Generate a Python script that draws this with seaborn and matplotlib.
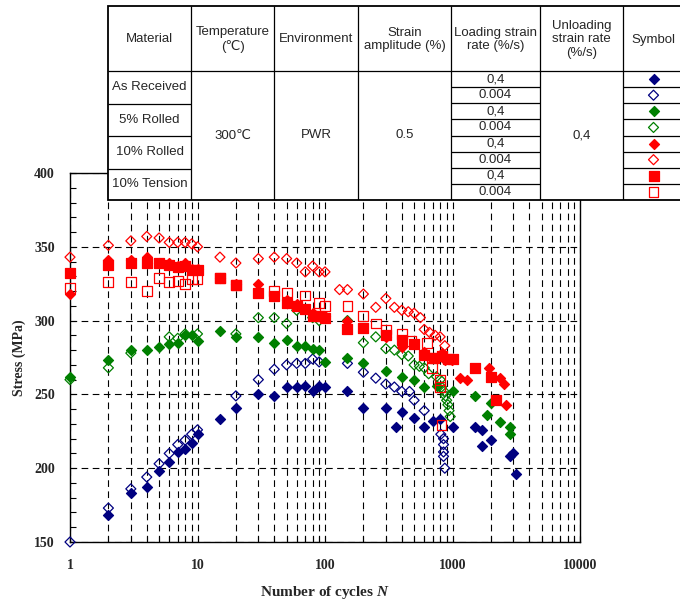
import numpy as np
import matplotlib
matplotlib.use("Agg")
import matplotlib.pyplot as plt
from matplotlib.patches import Rectangle
from matplotlib.ticker import LogLocator, MultipleLocator, NullFormatter
import seaborn as sns

# ---------------- cyclic stress response data ----------------
# As received, loading 0.4 %/s
ar_fast_n = [2, 3, 4, 5, 6, 7, 8, 9, 10, 15, 20, 30, 40, 50, 60, 70, 80, 90, 100,
             150, 200, 300, 360, 400, 500, 600, 700, 800, 1000, 1500, 1700, 1700,
             2000, 2800, 3000, 3150]
ar_fast_s = [168, 183, 187, 198, 204, 211, 213, 217, 223, 233, 241, 250, 249, 255,
             255, 256, 252, 256, 255, 252, 241, 241, 228, 238, 234, 228, 232, 233,
             228, 228, 226, 215, 219, 208, 210, 196]
# As received, loading 0.004 %/s
ar_slow_n = [1, 2, 3, 4, 5, 6, 7, 8, 9, 10, 20, 30, 40, 50, 60, 70, 80, 90, 150,
             200, 250, 300, 350, 400, 460, 500, 600, 810, 850, 850, 850, 850, 870]
ar_slow_s = [150, 173, 186, 194, 203, 210, 216, 219, 223, 226, 249, 260, 267, 270,
             271, 271, 274, 272, 271, 265, 261, 257, 255, 252, 252, 246, 239, 223,
             220, 216, 211, 208, 200]
# 5% rolled, loading 0.4 %/s
r5_fast_n = [1, 2, 3, 4, 5, 6, 7, 8, 9, 10, 15, 20, 30, 40, 50, 60, 70, 80, 90, 100,
             150, 200, 300, 400, 500, 600, 750, 1000, 1500, 1850, 2000, 2350, 2850,
             2850]
r5_fast_s = [262, 273, 280, 280, 282, 284, 285, 290, 290, 286, 293, 289, 289, 285,
             287, 283, 283, 281, 280, 272, 275, 271, 266, 262, 260, 255, 256, 252,
             249, 236, 244, 231, 228, 223]
# 5% rolled, loading 0.004 %/s
r5_slow_n = [1, 2, 3, 6, 7, 8, 10, 20, 30, 40, 50, 60, 80, 90, 150, 200, 250, 300,
             350, 400, 450, 500, 550, 600, 650, 750, 800, 820, 860, 880, 900, 920,
             940, 960]
r5_slow_s = [260, 268, 278, 289, 288, 291, 291, 291, 302, 302, 298, 307, 302, 300,
             300, 285, 289, 281, 280, 277, 276, 270, 269, 268, 264, 262, 260, 255,
             252, 249, 246, 243, 239, 235]
# 10% rolled, loading 0.4 %/s
r10_fast_n = [1, 2, 3, 4, 5, 6, 7, 8, 9, 10, 15, 20, 30, 50, 60, 80, 90, 100, 150,
              300, 400, 600, 675, 820, 870, 985, 1150, 1300, 1950, 2350, 2550, 2650]
r10_fast_s = [318, 341, 341, 343, 339, 339, 337, 339, 335, 335, 329, 325, 325, 314,
              311, 305, 303, 303, 300, 289, 282, 279, 275, 278, 273, 273, 261, 260,
              268, 261, 257, 243]
# 10% rolled, loading 0.004 %/s
r10_slow_n = [1, 2, 3, 4, 5, 6, 7, 8, 9, 10, 15, 20, 30, 40, 50, 60, 70, 80, 90, 100,
              130, 150, 200, 250, 300, 350, 400, 450, 500, 560, 600, 660, 730, 800,
              870]
r10_slow_s = [343, 351, 354, 357, 356, 353, 353, 353, 352, 350, 343, 339, 342, 343,
              342, 339, 333, 337, 333, 333, 321, 321, 318, 309, 315, 309, 307, 306,
              305, 302, 294, 292, 290, 289, 283]
# 10% tension, loading 0.4 %/s
t10_fast_n = [1, 2, 3, 4, 5, 6, 7, 8, 9, 10, 15, 20, 30, 40, 50, 60, 70, 80, 90, 100,
              150, 200, 300, 400, 500, 600, 720, 820, 920, 1000, 1500, 2000, 2200]
t10_fast_s = [332, 338, 339, 339, 339, 338, 336, 337, 334, 334, 329, 324, 319, 317,
              312, 310, 308, 303, 303, 302, 294, 295, 290, 287, 284, 277, 275, 276,
              274, 274, 268, 262, 246]
# 10% tension, loading 0.004 %/s
t10_slow_n = [1, 2, 3, 4, 5, 6, 7, 8, 9, 10, 15, 20, 40, 50, 70, 90, 100, 150, 200,
              250, 300, 400, 470, 630, 690, 690, 800, 800, 820]
t10_slow_s = [322, 326, 326, 320, 329, 326, 327, 325, 328, 328, 329, 324, 320, 319,
              317, 312, 310, 310, 303, 298, 294, 291, 286, 285, 275, 268, 260, 255,
              229]

materials = ["As Received", "5% Rolled", "10% Rolled", "10% Tension"]
loading_rates = ["0,4", "0.004"]
y_ticks = [150, 200, 250, 300, 350, 400]
x_ticks = [1, 10, 100, 1000, 10000]
x_tick_labels = ["1", "10", "100", "1000", "10000"]

NAVY, GREEN, RED = "#000080", "#008000", "#ff0000"
DIAMOND_S, SQUARE_S = 26, 50

series = [
    (ar_fast_n, ar_fast_s, "D", NAVY, True, DIAMOND_S),
    (ar_slow_n, ar_slow_s, "D", NAVY, False, DIAMOND_S),
    (r5_fast_n, r5_fast_s, "D", GREEN, True, DIAMOND_S),
    (r5_slow_n, r5_slow_s, "D", GREEN, False, DIAMOND_S),
    (r10_fast_n, r10_fast_s, "D", RED, True, DIAMOND_S),
    (r10_slow_n, r10_slow_s, "D", RED, False, DIAMOND_S),
    (t10_fast_n, t10_fast_s, "s", RED, True, SQUARE_S),
    (t10_slow_n, t10_slow_s, "s", RED, False, SQUARE_S),
]

# ---------------- style ----------------
sns.set_theme(style="white")
plt.rcParams["font.family"] = ["Liberation Serif", "DejaVu Serif"]
plt.rcParams["mathtext.fontset"] = "custom"
plt.rcParams["mathtext.rm"] = "Liberation Serif"
plt.rcParams["mathtext.it"] = "Liberation Serif:italic:bold"
plt.rcParams["mathtext.bf"] = "Liberation Serif:bold"

fig = plt.figure(figsize=(6.8, 6.07), dpi=100)
ax = fig.add_axes([70 / 680, 65 / 607, 510 / 680, 369 / 607])

for n, s, marker, color, filled, size in series:
    sns.scatterplot(x=n, y=s, ax=ax, marker=marker, s=size, color=color,
                    edgecolor=color, linewidth=0.9, zorder=3, legend=False,
                    clip_on=False)
    if not filled:
        ax.collections[-1].set_facecolor("none")

ax.set_xscale("log")
ax.set_xlim(1, 10000)
ax.set_ylim(150, 400)

ax.set_xticks(x_ticks, x_tick_labels, fontweight="bold", fontsize=10)
ax.xaxis.set_minor_locator(LogLocator(base=10, subs=np.arange(2, 10)))
ax.xaxis.set_minor_formatter(NullFormatter())
ax.set_yticks(y_ticks, [str(v) for v in y_ticks], fontweight="bold", fontsize=10)
ax.yaxis.set_minor_locator(MultipleLocator(10))

ax.tick_params(axis="y", which="both", direction="in", length=4, width=0.8,
               color="black", pad=11, left=True, right=False)
ax.tick_params(axis="x", which="both", direction="in", length=4, width=0.8,
               color="black", pad=12, bottom=True, top=False)

dash = (0, (6, 4))
ax.grid(True, axis="x", which="both", color="black", linestyle=dash, linewidth=0.8)
ax.grid(True, axis="y", which="major", color="black", linestyle=dash, linewidth=0.8)
ax.set_axisbelow(True)

for side in ["left", "right", "top", "bottom"]:
    ax.spines[side].set_visible(True)
    ax.spines[side].set_color("black")
    ax.spines[side].set_linewidth(1.0)

ax.set_ylabel("Stress (MPa)", fontweight="bold", fontsize=10, labelpad=6)
ax.set_xlabel("Number of cycles $N$", fontweight="bold", fontsize=11, labelpad=9)

# ---------------- test condition table ----------------
tax = fig.add_axes([108 / 680, (607 - 200) / 607, 576 / 680, 194 / 607])
tax.set_xlim(108, 684)
tax.set_ylim(200, 6)
tax.axis("off")

cols = [108, 191, 274, 358, 451, 540, 623, 684]
top, head, bot = 6, 71, 200
row_edges = [71, 103.5, 136, 168.5, 200]
sub_edges = np.linspace(71, 200, 9)

tax.add_patch(Rectangle((108, top), 576, bot - top, facecolor="white",
                        edgecolor="black", lw=1.3, clip_on=False, zorder=0))
line_kw = dict(color="black", lw=0.9, solid_capstyle="butt")
tax.plot([108, 684], [head, head], **line_kw)
for xc in cols[1:-1]:
    tax.plot([xc, xc], [top, bot], **line_kw)
for yr in row_edges[1:-1]:
    tax.plot([cols[0], cols[1]], [yr, yr], **line_kw)
for ys in sub_edges[1:-1]:
    tax.plot([cols[4], cols[5]], [ys, ys], **line_kw)
    tax.plot([cols[6], cols[7]], [ys, ys], **line_kw)

tfont = dict(family=["Liberation Sans", "DejaVu Sans"], fontsize=9.5,
             ha="center", va="center", linespacing=1.2)
headers = ["Material", "Temperature\n(\u2103)", "Environment",
           "Strain\namplitude (%)", "Loading strain\nrate (%/s)",
           "Unloading\nstrain rate\n(%/s)", "Symbol"]
for i, h in enumerate(headers):
    tax.text((cols[i] + cols[i + 1]) / 2, (top + head) / 2 + 1, h, **tfont)

for i, m in enumerate(materials):
    tax.text((cols[0] + cols[1]) / 2, (row_edges[i] + row_edges[i + 1]) / 2, m, **tfont)

mid = (head + bot) / 2
for i, v in enumerate(["300\u2103", "PWR", "0.5"]):
    tax.text((cols[i + 1] + cols[i + 2]) / 2, mid, v, **tfont)
tax.text((cols[5] + cols[6]) / 2, mid, "0,4", **tfont)

sym_x = (cols[6] + cols[7]) / 2
for k, (n, s, marker, color, filled, size) in enumerate(series):
    yc = (sub_edges[k] + sub_edges[k + 1]) / 2
    tax.text((cols[4] + cols[5]) / 2, yc, loading_rates[k % 2], **tfont)
    tax.scatter([sym_x], [yc], marker=marker, s=size,
                facecolor=color if filled else "none", edgecolor=color,
                linewidth=0.9, zorder=3, clip_on=False)

fig.savefig("out.png", dpi=100)
